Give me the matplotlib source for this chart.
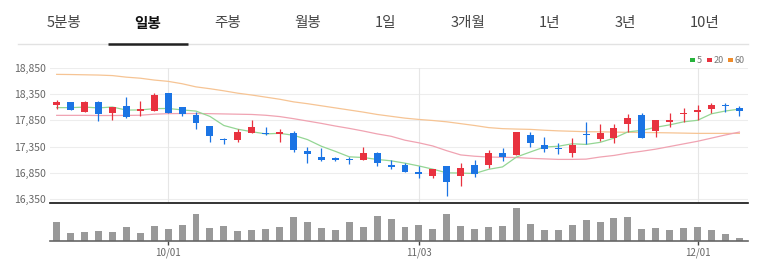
import matplotlib
matplotlib.use("Agg")
import matplotlib.pyplot as plt
from matplotlib.patches import Rectangle
import numpy as np

plt.rcParams["font.family"] = ["Noto Sans CJK KR", "DejaVu Sans"]

# ---- data ----
tabs = ["5분봉", "일봉", "주봉", "월봉", "1일", "3개월", "1년", "3년", "10년"]
selected_tab = "일봉"

opens = [18140, 18190, 18006, 18203, 17981, 18120, 18030, 18025, 18361, 18095,
         17955, 17740, 17480, 17473, 17613, 17590, 17595, 17600, 17264, 17143,
         17140, 17105, 17092, 17232, 16997, 16991, 16870, 16794, 16978, 16788,
         16991, 16997, 17219, 17188, 17568, 17378, 17314, 17232, 17581, 17486,
         17518, 17778, 17943, 17644, 17822, 17962, 18012, 18057, 18139, 18076]
closes = [18200, 18045, 18203, 17968, 18095, 17905, 18057, 18330, 17981, 17962,
          17790, 17550, 17468, 17625, 17727, 17580, 17605, 17283, 17213, 17092,
          17095, 17086, 17219, 17029, 16960, 16870, 16820, 16915, 16680, 16940,
          16826, 17219, 17143, 17620, 17422, 17295, 17295, 17378, 17562, 17613,
          17695, 17898, 17518, 17854, 17847, 17981, 18044, 18139, 18120, 18025]
highs = [18235, 18195, 18210, 18210, 18100, 18300, 18215, 18360, 18370, 18100,
         18012, 17745, 17518, 17690, 17855, 17715, 17683, 17645, 17335, 17328,
         17155, 17156, 17346, 17250, 17092, 17030, 16978, 16920, 16980, 17029,
         17092, 17283, 17327, 17625, 17632, 17524, 17422, 17505, 17822, 17778,
         17778, 17962, 17981, 17860, 17981, 18076, 18139, 18184, 18171, 18120]
lows = [18060, 18040, 18000, 17840, 17855, 17900, 17930, 18020, 17980, 17930,
        17675, 17440, 17397, 17440, 17610, 17575, 17440, 17250, 17030, 17080,
        17080, 17016, 17090, 16978, 16915, 16865, 16756, 16743, 16414, 16597,
        16763, 16934, 17080, 17185, 17346, 17238, 17207, 17156, 17397, 17460,
        17422, 17632, 17505, 17524, 17714, 17822, 17854, 17993, 18012, 17930]
ma5 = [18090, 18090, 18100, 18085, 18102, 18043, 18046, 18071, 18074, 18047,
       18024, 17923, 17750, 17679, 17632, 17590, 17601, 17564, 17482, 17355,
       17258, 17154, 17141, 17104, 17078, 17033, 16980, 16919, 16849, 16845,
       16836, 16916, 16962, 17150, 17246, 17340, 17355, 17402, 17390, 17429,
       17509, 17629, 17657, 17716, 17762, 17820, 17849, 17973, 18026, 18062]
ma20 = [17943, 17943, 17943, 17940, 17940, 17942, 17945, 17965, 17975, 17978,
        17978, 17975, 17970, 17965, 17960, 17945, 17920, 17880, 17835, 17790,
        17740, 17695, 17645, 17590, 17545, 17470, 17420, 17360, 17270, 17190,
        17165, 17150, 17145, 17140, 17125, 17115, 17105, 17105, 17110, 17150,
        17180, 17225, 17260, 17300, 17350, 17400, 17450, 17510, 17570, 17625]
ma60 = [18723, 18720, 18715, 18710, 18700, 18670, 18650, 18615, 18590, 18545,
        18485, 18450, 18410, 18365, 18330, 18290, 18250, 18200, 18165, 18125,
        18085, 18045, 18005, 17960, 17925, 17890, 17865, 17845, 17820, 17785,
        17750, 17710, 17690, 17682, 17676, 17660, 17648, 17640, 17632, 17630,
        17625, 17620, 17617, 17614, 17610, 17605, 17600, 17600, 17600, 17600]
volumes = [190, 80, 90, 97, 90, 140, 77, 150, 120, 160,
           267, 133, 147, 97, 107, 120, 140, 240, 187, 130,
           110, 187, 140, 250, 217, 140, 157, 120, 267, 150,
           120, 137, 150, 330, 167, 110, 107, 160, 207, 187,
           230, 237, 123, 130, 107, 130, 137, 110, 70, 27]
date_tick_idx = [8, 26, 46]
date_tick_labels = ["10/01", "11/03", "12/01"]
price_ticks = [16350, 16850, 17350, 17850, 18350, 18850]

UP = "#e8323f"
DOWN = "#1b74e4"
W, H = 760, 260


def rect(x0, y0, x1, y1):
    return [x0 / W, 1 - y1 / H, (x1 - x0) / W, (y1 - y0) / H]


fig = plt.figure(figsize=(W / 100, H / 100), dpi=100, facecolor="white")

# overlay in pixel coordinates for tabs / legend
ov = fig.add_axes([0, 0, 1, 1])
ov.set_xlim(0, W)
ov.set_ylim(H, 0)
ov.axis("off")

tab_x = [64, 148, 228, 308, 386, 468, 549, 625, 705]
for x, t in zip(tab_x, tabs):
    sel = t == selected_tab
    ov.text(x, 23, t, ha="center", va="center", fontsize=10.5,
            color="#111111" if sel else "#444444",
            fontweight="bold" if sel else "normal")
ov.plot([18, 748], [43.8, 43.8], color="#e2e2e2", lw=1)
ov.plot([108, 188], [43.5, 43.5], color="#222222", lw=1.8, solid_capstyle="butt")

# legend
leg = [("5", "#27b33c", 690), ("20", "#e8323f", 707), ("60", "#f08c2a", 728)]
for lab, c, x in leg:
    ov.add_patch(Rectangle((x, 57.5), 4.5, 4.8, color=c, lw=0))
    ov.text(x + 6.5, 60.3, lab, ha="left", va="center", fontsize=6.5, color="#777777")

# ---- price panel ----
ax = fig.add_axes(rect(50, 67.7, 748, 203))
idx = np.arange(len(opens))
ax.set_xlim(-0.48, 49.62)
ax.set_ylim(16275, 18850)

for p in price_ticks:
    ax.axhline(p, color="#ededed", lw=0.8, zorder=0)
for i in date_tick_idx:
    ax.axvline(i, color="#e6e6e6", lw=0.8, zorder=0)

ax.plot(idx, ma60, color="#f6c494", lw=0.9, zorder=1)
ax.plot(idx, ma20, color="#f0a3b2", lw=0.9, zorder=1)
ax.plot(idx, ma5, color="#94d694", lw=0.9, zorder=1)

o = np.array(opens)
c = np.array(closes)
colors = [UP if cc >= oo else DOWN for oo, cc in zip(o, c)]
ax.vlines(idx, lows, highs, colors=colors, lw=0.9, zorder=2)
bottom = np.minimum(o, c)
height = np.maximum(np.abs(c - o), 28)
ax.bar(idx, height, bottom=bottom, width=0.5, color=colors, zorder=3, linewidth=0)

ax.set_yticks(price_ticks)
ax.set_yticklabels([f"{p:,}" for p in price_ticks], fontsize=7.5, color="#666666")
ax.tick_params(axis="y", length=0, pad=3)
ax.set_xticks([])
for s in ["top", "left", "right"]:
    ax.spines[s].set_visible(False)
ax.spines["bottom"].set_color("#111111")
ax.spines["bottom"].set_linewidth(1.2)
ax.patch.set_alpha(0)

# ---- volume panel ----
vx = fig.add_axes(rect(50, 203, 748, 241))
vx.set_xlim(-0.48, 49.62)
vx.set_ylim(0, 380)
vx.bar(idx, volumes, width=0.5, color="#999999", linewidth=0)
vx.set_xticks(date_tick_idx)
vx.set_xticklabels(date_tick_labels, fontsize=7, color="#666666")
vx.tick_params(axis="x", length=3, width=1, color="#444444", pad=1.5)
vx.set_yticks([])
for s in ["top", "left", "right"]:
    vx.spines[s].set_visible(False)
vx.spines["bottom"].set_color("#666666")
vx.spines["bottom"].set_linewidth(1.2)
vx.patch.set_alpha(0)

fig.savefig("out.png", dpi=100)
